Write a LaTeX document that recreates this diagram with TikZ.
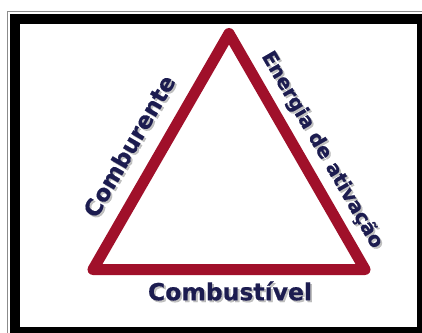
\documentclass[tikz,border=0pt]{standalone}
\usepackage{fontspec}
\setmainfont{DejaVu Sans}[BoldFeatures={FakeBold=0.6}]
\usetikzlibrary{calc}
\definecolor{trired}{HTML}{A0102A}
\definecolor{txtnavy}{HTML}{1C1C50}
\begin{document}
\begin{tikzpicture}[x=1pt,y=1pt,
  lbl/.style={font=\bfseries\fontsize{#1}{#1}\selectfont, text=txtnavy, inner sep=0pt},
  shd/.style={font=\bfseries\fontsize{#1}{#1}\selectfont, text=black!40, opacity=0.6, inner sep=0pt}]
\useasboundingbox (0,0) rectangle (422,332);
\clip (0,0) rectangle (422,332);
\fill[white] (0,0) rectangle (422,332);
% frame
\draw[black!45, line width=1.2pt] (7.5,-10) rectangle (440,320.5);
\draw[black, line width=10pt] (15,0) rectangle (422,313);
% triangle
\coordinate (A) at (229,298.5);
\coordinate (L) at (93,62.5);
\coordinate (R) at (365,62.5);
\draw[trired, line width=11pt, line join=round] (A) -- (L) -- (R) -- cycle;
% shadows
\node[shd=23, rotate=60] (s1) at ($(129,186)+(1.8,-1.8)$) {Comburente};
\node[shd=20, rotate=-60] (s2) at ($(322,182)+(1.8,-1.8)$) {Energia de ativação};
\node[shd=23.5] (s3) at ($(230,41)+(1.8,-1.8)$) {Combustível};
% labels
\node[lbl=23, rotate=60] (t1) at (129,186) {Comburente};
\node[lbl=20, rotate=-60] (t2) at (322,182) {Energia de ativação};
\node[lbl=23.5] (t3) at (230,41) {Combustível};
\end{tikzpicture}
\end{document}
